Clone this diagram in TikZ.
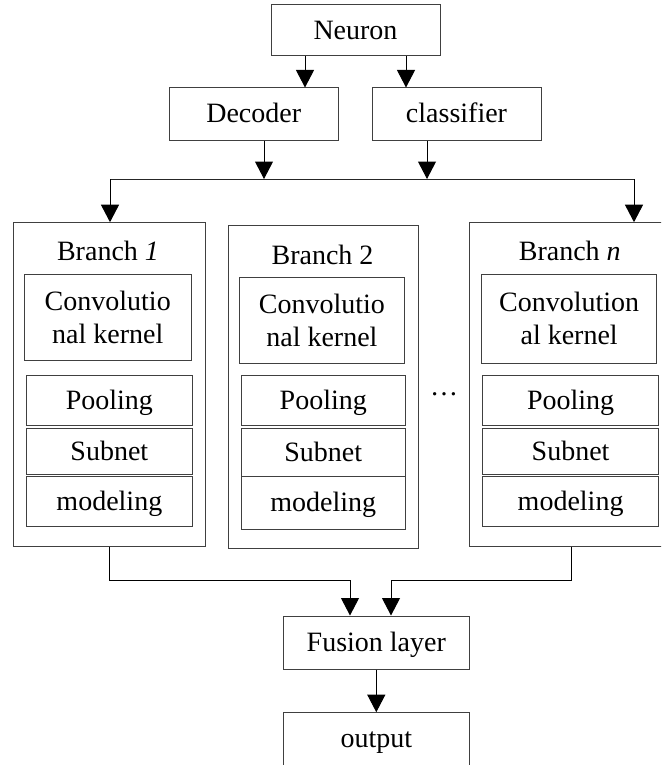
\documentclass[tikz,border=0pt]{standalone}
\usepackage{fontspec}
\setmainfont{Liberation Serif}
\usetikzlibrary{arrows.meta}
\tikzset{
  every node/.style={font=\fontsize{28}{33}\selectfont},
  box/.style={draw=black!75, line width=1pt, rectangle, inner sep=0pt, text height=18pt, text depth=0pt},
  mbox/.style={draw=black!75, line width=1pt, rectangle, inner sep=0pt, align=center},
  frame/.style={draw=black!75, line width=1pt, rectangle, inner sep=0pt},
  title/.style={anchor=base, inner sep=0pt},
  arr/.style={draw=black, line width=1pt, -{Triangle[length=17.5pt,width=18pt]}},
  wire/.style={draw=black!85, line width=1pt}
}
\begin{document}
\begin{tikzpicture}[x=1pt,y=-1pt]
\clip (0,0) rectangle (661,765);
% top boxes
\node[box, minimum width=169pt, minimum height=51pt] (neuron) at (355.5,30.5) {Neuron};
\node[box, minimum width=168.5pt, minimum height=52pt] (dec) at (253.75,114) {Decoder};
\node[box, minimum width=169pt, minimum height=52pt] (cls) at (456.5,114) {classifier};
% branch frames
\node[frame, minimum width=192.2pt, minimum height=323.3pt] (b1) at (109.6,384.35) {};
\node[frame, minimum width=190.1pt, minimum height=323.4pt] (b2) at (323.55,387) {};
\node[frame, minimum width=200.4pt, minimum height=323.3pt] (bn) at (569.8,384.35) {};
% titles
\node[title] (t1) at (108,260.7) {Branch \textit{1}};
\node[title] (t2) at (322.5,264) {Branch 2};
\node[title] (tn) at (569.8,260.7) {Branch \textit{n}};
% conv boxes
\node[mbox, minimum width=166.5pt, minimum height=86.7pt] (c1) at (107.75,317.6) {Convolutio\\nal kernel};
\node[mbox, minimum width=164.8pt, minimum height=86.6pt] (c2) at (321.9,320.3) {Convolutio\\nal kernel};
\node[mbox, minimum width=175.3pt, minimum height=89pt] (cn) at (569.15,318.8) {Convolution\\al kernel};
% stack 1
\node[box, minimum width=166.7pt, minimum height=50pt] (p1) at (109.35,400.3) {Pooling};
\node[box, minimum width=166.7pt, minimum height=45.3pt] (s1) at (109.35,451.35) {Subnet};
\node[box, minimum width=166.7pt, minimum height=50.7pt] (m1) at (109.35,501.35) {modeling};
% stack 2
\node[box, minimum width=164.6pt, minimum height=50pt] (p2) at (323.3,400.3) {Pooling};
\node[box, minimum width=164.6pt, minimum height=47.3pt] (s2) at (323.3,452.35) {Subnet};
\node[box, minimum width=164.6pt, minimum height=53.3pt] (m2) at (323.3,502.65) {modeling};
% stack n
\node[box, minimum width=175.8pt, minimum height=50pt] (pn) at (570.6,400.3) {Pooling};
\node[box, minimum width=175.8pt, minimum height=45.3pt] (sn) at (570.6,451.35) {Subnet};
\node[box, minimum width=175.8pt, minimum height=50.7pt] (mn) at (570.6,501.35) {modeling};
% dots
\node[title] (dots) at (444,395.5) {…};
% bottom boxes
\node[box, minimum width=186pt, minimum height=53pt] (fusion) at (376.3,642.5) {Fusion layer};
\node[box, minimum width=186pt, minimum height=60pt, text depth=8pt] (output) at (376.3,742.7) {output};
% helper coordinates
\coordinate (n1) at (305,0);
\coordinate (n2) at (406,0);
\coordinate (d1) at (264,179);
\coordinate (d2) at (427,179);
\coordinate (busL) at (110,179);
\coordinate (busR) at (634,179);
\coordinate (bnx) at (571,0);
\coordinate (f1) at (350,580);
\coordinate (f2) at (391,580);
% connectors
\draw[arr] (neuron.south -| n1) -- (dec.north -| n1);
\draw[arr] (neuron.south -| n2) -- (cls.north -| n2);
\draw[arr] (dec.south -| d1) -- (d1);
\draw[arr] (cls.south -| d2) -- (d2);
\draw[wire] (busL) -- (busR);
\draw[arr] (busL) -- (b1.north -| busL);
\draw[arr] (busR) -- (bn.north -| busR);
\draw[arr] (b1.south) |- (f1) -- (fusion.north -| f1);
\draw[arr] (bn.south -| bnx) |- (f2) -- (fusion.north -| f2);
\draw[arr] (fusion) -- (output);
\end{tikzpicture}
\end{document}
